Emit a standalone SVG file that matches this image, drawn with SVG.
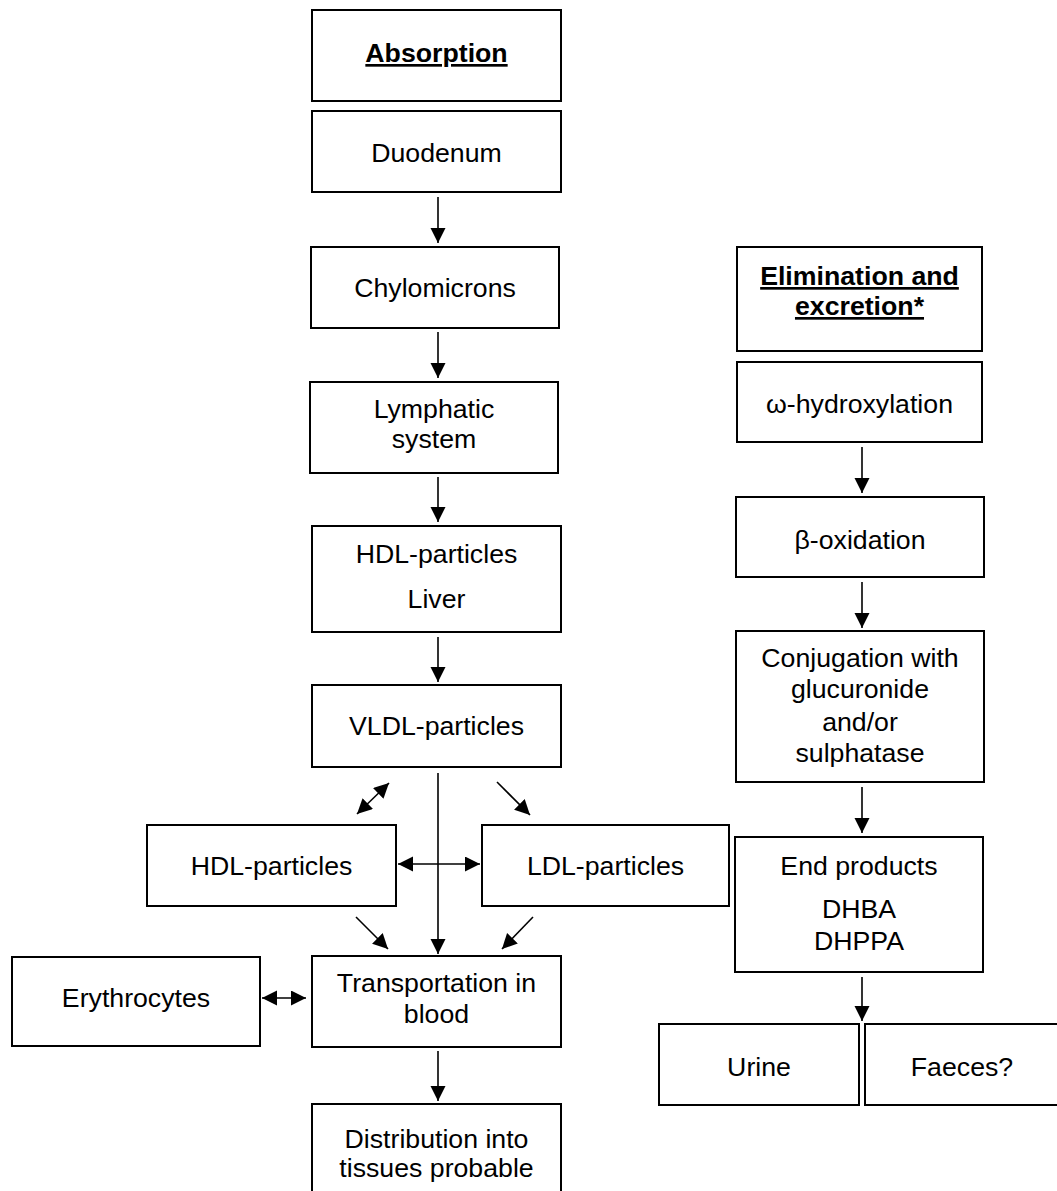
<svg xmlns="http://www.w3.org/2000/svg" width="1057" height="1191" viewBox="0 0 1057 1191">
<style>
.box{fill:#fff;stroke:#000;stroke-width:2}
.t{font-family:"Liberation Sans",Arial,sans-serif;font-size:26.7px;fill:#000;text-anchor:middle}
.b{font-weight:bold;text-decoration:underline}
.c{stroke:#000;stroke-width:1.6;fill:none}
</style>
<defs>
<marker id="ah" markerUnits="userSpaceOnUse" markerWidth="16" markerHeight="16" refX="15" refY="7.5" orient="auto-start-reverse" viewBox="0 0 16 16">
<path d="M0,0 L15,7.5 L0,15 z" fill="#000"/>
</marker>
</defs>
<rect width="1057" height="1191" fill="#fff"/>
<g id="connectors">
<line class="c" x1="438" y1="197" x2="438" y2="243" marker-end="url(#ah)"/>
<line class="c" x1="438" y1="332" x2="438" y2="378" marker-end="url(#ah)"/>
<line class="c" x1="438" y1="477" x2="438" y2="522" marker-end="url(#ah)"/>
<line class="c" x1="438" y1="637" x2="438" y2="682" marker-end="url(#ah)"/>
<line class="c" x1="438" y1="773" x2="438" y2="954" marker-end="url(#ah)"/>
<line class="c" x1="389" y1="783" x2="357" y2="814" marker-start="url(#ah)" marker-end="url(#ah)"/>
<line class="c" x1="497" y1="782" x2="530" y2="815" marker-end="url(#ah)"/>
<line class="c" x1="398" y1="864" x2="480" y2="864" marker-start="url(#ah)" marker-end="url(#ah)"/>
<line class="c" x1="356" y1="917" x2="388" y2="949" marker-end="url(#ah)"/>
<line class="c" x1="533" y1="917" x2="502" y2="949" marker-end="url(#ah)"/>
<line class="c" x1="262" y1="998" x2="306" y2="998" marker-start="url(#ah)" marker-end="url(#ah)"/>
<line class="c" x1="438" y1="1051" x2="438" y2="1101" marker-end="url(#ah)"/>
<line class="c" x1="862" y1="447" x2="862" y2="493" marker-end="url(#ah)"/>
<line class="c" x1="862" y1="582" x2="862" y2="628" marker-end="url(#ah)"/>
<line class="c" x1="862" y1="787" x2="862" y2="833" marker-end="url(#ah)"/>
<line class="c" x1="862" y1="977" x2="862" y2="1021" marker-end="url(#ah)"/>
</g>
<g id="absorption">
<rect class="box" x="312" y="10" width="249" height="91"/>
<text class="t b" x="436.5" y="62">Absorption</text>
</g>
<g id="duodenum">
<rect class="box" x="312" y="111" width="249" height="81"/>
<text class="t" x="436.5" y="162">Duodenum</text>
</g>
<g id="chylomicrons">
<rect class="box" x="311" y="247" width="248" height="81"/>
<text class="t" x="435" y="297">Chylomicrons</text>
</g>
<g id="lymphatic">
<rect class="box" x="310" y="382" width="248" height="91"/>
<text class="t" x="434" y="418">Lymphatic</text>
<text class="t" x="434" y="448">system</text>
</g>
<g id="hdl-liver">
<rect class="box" x="312" y="526" width="249" height="106"/>
<text class="t" x="436.5" y="563">HDL-particles</text>
<text class="t" x="436.5" y="608">Liver</text>
</g>
<g id="vldl">
<rect class="box" x="312" y="685" width="249" height="82"/>
<text class="t" x="436.5" y="735">VLDL-particles</text>
</g>
<g id="hdl">
<rect class="box" x="147" y="825" width="249" height="81"/>
<text class="t" x="271.5" y="875">HDL-particles</text>
</g>
<g id="ldl">
<rect class="box" x="482" y="825" width="247" height="81"/>
<text class="t" x="605.5" y="875">LDL-particles</text>
</g>
<g id="erythrocytes">
<rect class="box" x="12" y="957" width="248" height="89"/>
<text class="t" x="136" y="1007">Erythrocytes</text>
</g>
<g id="transportation">
<rect class="box" x="312" y="956" width="249" height="91"/>
<text class="t" x="436.5" y="992">Transportation in</text>
<text class="t" x="436.5" y="1023">blood</text>
</g>
<g id="distribution">
<rect class="box" x="312" y="1104" width="249" height="92"/>
<text class="t" x="436.5" y="1148">Distribution into</text>
<text class="t" x="436.5" y="1177">tissues probable</text>
</g>
<g id="elimination">
<rect class="box" x="737" y="247" width="245" height="104"/>
<text class="t b" x="859.5" y="285">Elimination and</text>
<text class="t b" x="859.5" y="315">excretion*</text>
</g>
<g id="hydroxylation">
<rect class="box" x="737" y="362" width="245" height="80"/>
<text class="t" x="859.5" y="413">ω-hydroxylation</text>
</g>
<g id="oxidation">
<rect class="box" x="736" y="497" width="248" height="80"/>
<text class="t" x="860" y="549">β-oxidation</text>
</g>
<g id="conjugation">
<rect class="box" x="736" y="631" width="248" height="151"/>
<text class="t" x="860" y="667">Conjugation with</text>
<text class="t" x="860" y="698">glucuronide</text>
<text class="t" x="860" y="731">and/or</text>
<text class="t" x="860" y="762">sulphatase</text>
</g>
<g id="endproducts">
<rect class="box" x="735" y="837" width="248" height="135"/>
<text class="t" x="859" y="875">End products</text>
<text class="t" x="859" y="918">DHBA</text>
<text class="t" x="859" y="950">DHPPA</text>
</g>
<g id="urine">
<rect class="box" x="659" y="1024" width="200" height="81"/>
<text class="t" x="759" y="1076">Urine</text>
</g>
<g id="faeces">
<rect class="box" x="865" y="1024" width="196" height="81"/>
<text class="t" x="962" y="1076">Faeces?</text>
</g>
</svg>
